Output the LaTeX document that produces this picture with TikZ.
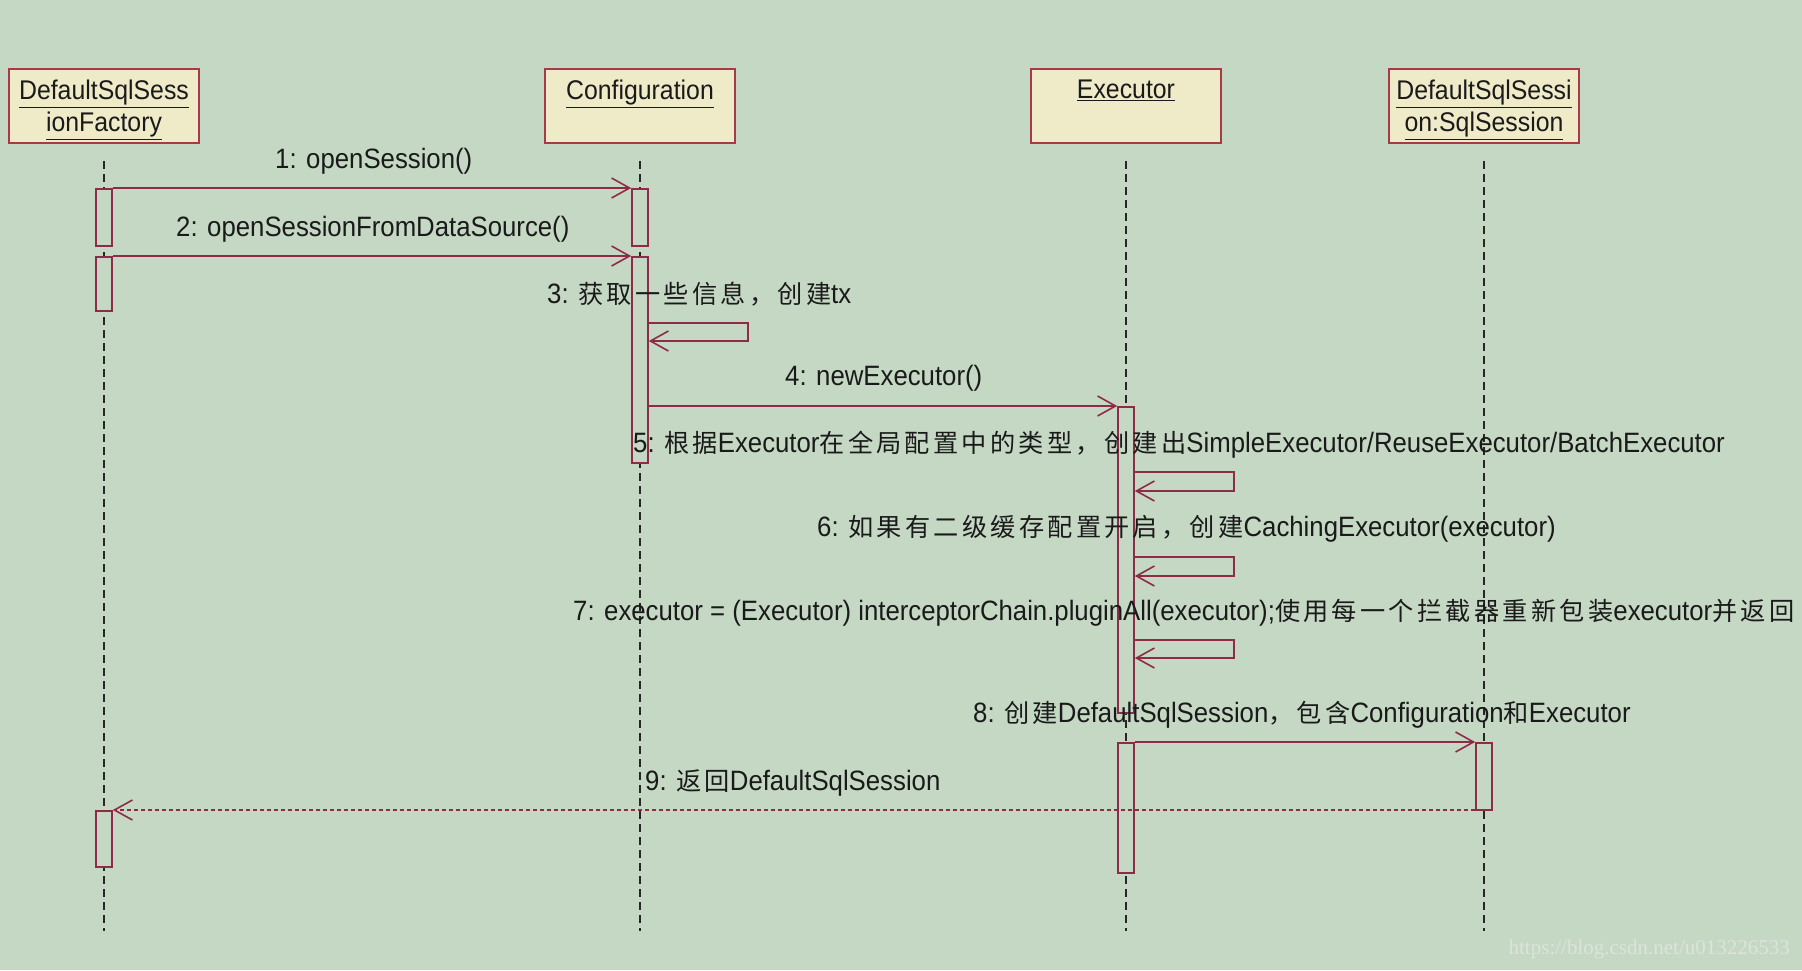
\documentclass[tikz,border=0pt]{standalone}
\usepackage{fontspec}
\setmainfont[FakeStretch=0.92]{Liberation Sans}
\newfontfamily\zhfont[Scale=0.9,LetterSpace=13]{Noto Sans CJK SC}
\newfontfamily\wmfont{Liberation Serif}
\newcommand\zh[1]{{\zhfont #1}}
\newcommand\lblfont{\fontsize{28}{32}\selectfont}
\newcommand\headfont{\fontsize{27}{32}\selectfont}
\usetikzlibrary{arrows.meta}
\definecolor{bgc}{HTML}{C5D8C4}
\definecolor{boxfill}{HTML}{EFEBC9}
\definecolor{boxline}{HTML}{A63A46}
\definecolor{msgc}{HTML}{8E2B48}
\definecolor{txt}{HTML}{1A1A1A}
\definecolor{wmc}{HTML}{DCE4DC}
\tikzset{
 obj/.style={draw=boxline, fill=boxfill, line width=2pt, minimum width=190pt, minimum height=74pt, inner sep=0pt},
 head/.style={anchor=north, align=center, text=txt, font=\headfont, inner sep=0pt},
 life/.style={draw=black!85, line width=1.5pt, dash pattern=on 8pt off 5pt},
 act/.style={draw=msgc, fill=bgc, line width=1.6pt, minimum width=16pt, inner sep=0pt, anchor=north},
 msg/.style={draw=msgc, line width=1.8pt, -{Straight Barb[length=18pt,width=20pt,line width=1.6pt]}},
 ret/.style={msg, dash pattern=on 4pt off 3pt},
 lbl/.style={anchor=west, text=txt, font=\lblfont, inner sep=0pt},
}
\begin{document}
\begin{tikzpicture}[x=1pt,y=-1pt]
\fill[bgc] (0,0) rectangle (1802,970);
\useasboundingbox (0,0) rectangle (1802,970);

% objects
\node[obj] (B1) at (104,106) {};
\node[obj] (B2) at (640,106) {};
\node[obj] (B3) at (1126,106) {};
\node[obj] (B4) at (1484,106) {};
\node[head] (T1) at ([yshift=-12pt]B1.north) {\underline{DefaultSqlSess}\\\underline{ionFactory}};
\node[head] (T2) at ([yshift=-12pt]B2.north) {\underline{Configuration}};
\node[head] (T3) at ([yshift=-12pt]B3.north) {\underline{Executor}};
\node[head] (T4) at ([yshift=-12pt]B4.north) {\underline{DefaultSqlSessi}\\\underline{on:SqlSession}};

% lifeline ends
\coordinate (E1) at (104,931);
\coordinate (E2) at (640,931);
\coordinate (E3) at (1126,931);
\coordinate (E4) at (1484,931);
\draw[life] ([yshift=-17pt]B1.south) -- (E1);
\draw[life] ([yshift=-17pt]B2.south) -- (E2);
\draw[life] ([yshift=-17pt]B3.south) -- (E3);
\draw[life] ([yshift=-17pt]B4.south) -- (E4);

% activations
\node[act, minimum height=57pt] (A1a) at (104,188) {};
\node[act, minimum height=54pt] (A1b) at (104,256) {};
\node[act, minimum height=56pt] (A1c) at (104,810) {};
\node[act, minimum height=57pt] (A2a) at (640,188) {};
\node[act, minimum height=206pt] (A2b) at (640,256) {};
\node[act, minimum height=306pt] (A3a) at (1126,406) {};
\node[act, minimum height=130pt] (A3b) at (1126,742) {};
\node[act, minimum height=67pt] (A4) at (1484,742) {};

% messages
\draw[msg] (A1a.north east) -- (A2a.north west);
\draw[msg] (A1b.north east) -- (A2b.north west);
\draw[msg] (A2b.east |- 0,323) -- ++(99,0) -- ++(0,18) -- (A2b.east |- 0,341);
\draw[msg] (A3a.north west -| A2b.east) -- (A3a.north west);
\draw[msg] (A3a.east |- 0,472) -- ++(99,0) -- ++(0,19) -- (A3a.east |- 0,491);
\draw[msg] (A3a.east |- 0,557) -- ++(99,0) -- ++(0,19) -- (A3a.east |- 0,576);
\draw[msg] (A3a.east |- 0,640) -- ++(99,0) -- ++(0,18) -- (A3a.east |- 0,658);
\draw[msg] (A3b.north east) -- (A4.north west);
\draw[ret] (A1c.north east -| A4.west) -- (A1c.north east);

% labels
\node[lbl] (L1) at (275,161) {1: openSession()};
\node[lbl] (L2) at (176,229) {2: openSessionFromDataSource()};
\node[lbl] (L3) at (547,294) {3: \zh{获取一些信息，创建}tx};
\node[lbl] (L4) at (785,378) {4: newExecutor()};
\node[lbl] (L5) at (633,445) {5: \zh{根据}Executor\zh{在全局配置中的类型，创建出}SimpleExecutor/ReuseExecutor/BatchExecutor};
\node[lbl] (L6) at (817,529) {6: \zh{如果有二级缓存配置开启，创建}CachingExecutor(executor)};
\node[lbl] (L7) at (573,613) {7: executor = (Executor) interceptorChain.pluginAll(executor);\zh{使用每一个拦截器重新包装}executor\zh{并返回}};
\node[lbl] (L8) at (973,715) {8: \zh{创建}DefaultSqlSession\zh{，包含}Configuration\zh{和}Executor};
\node[lbl] (L9) at (645,783) {9: \zh{返回}DefaultSqlSession};

\node[text=wmc, font=\wmfont\fontsize{21}{24}\selectfont, anchor=east, inner sep=0pt] (W) at (1790,949) {https://blog.csdn.net/u013226533};
\end{tikzpicture}
\end{document}
